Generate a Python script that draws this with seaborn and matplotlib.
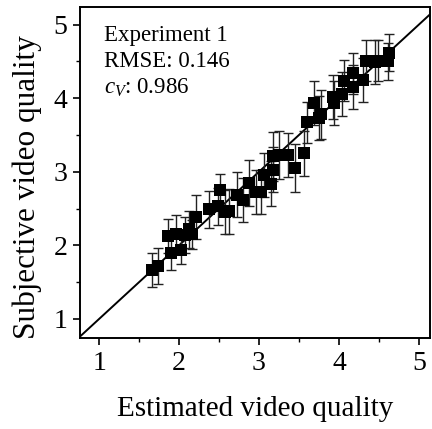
import numpy as np
import pandas as pd
import matplotlib
matplotlib.use("Agg")
import matplotlib.pyplot as plt
import seaborn as sns

estimated = [1.655, 1.73, 1.86, 1.90, 1.96, 2.02, 2.07, 2.125, 2.16, 2.21,
             2.38, 2.49, 2.51, 2.57, 2.63, 2.725, 2.80, 2.88, 2.96, 3.03,
             3.06, 3.155, 3.17, 3.18, 3.25, 3.36, 3.45, 3.56, 3.60, 3.69,
             3.75, 3.78, 3.92, 3.94, 4.04, 4.07, 4.175, 4.175, 4.30, 4.34,
             4.45, 4.49, 4.61, 4.625]
subjective = [1.66, 1.72, 2.13, 1.89, 2.16, 1.93, 2.14, 2.22, 2.15, 2.38,
              2.49, 2.53, 2.75, 2.45, 2.46, 2.69, 2.62, 2.85, 2.73, 2.73,
              2.96, 2.84, 3.03, 3.21, 3.23, 3.23, 3.05, 3.25, 3.67, 3.93,
              3.73, 3.78, 4.02, 3.93, 4.06, 4.24, 4.15, 4.34, 4.25, 4.51,
              4.49, 4.51, 4.50, 4.62]
ci = [0.23, 0.24, 0.23, 0.22, 0.25, 0.18, 0.25, 0.25, 0.20, 0.30,
      0.25, 0.25, 0.22, 0.30, 0.30, 0.30, 0.30, 0.31, 0.30, 0.30,
      0.30, 0.30, 0.30, 0.33, 0.33, 0.30, 0.33, 0.31, 0.28, 0.30,
      0.30, 0.33, 0.30, 0.30, 0.30, 0.28, 0.30, 0.28, 0.30, 0.28,
      0.30, 0.28, 0.25, 0.25]

stats_lines = ["Experiment 1", "RMSE: 0.146", "$c_V$: 0.986"]
xticks = [1, 2, 3, 4, 5]
yticks = [1, 2, 3, 4, 5]

df = pd.DataFrame({"est": estimated, "subj": subjective, "ci": ci})

sns.set_theme(style="ticks")
plt.rcParams["font.family"] = ["Liberation Serif", "DejaVu Serif"]
plt.rcParams["mathtext.fontset"] = "custom"
plt.rcParams["mathtext.rm"] = "Liberation Serif"
plt.rcParams["mathtext.it"] = "Liberation Serif:italic"

fig = plt.figure(figsize=(4.32, 4.29), dpi=100)
ax = fig.add_axes([80 / 432, 1 - 338 / 429, 350 / 432, 331 / 429])

xlim = (0.76, 5.14)
ylim = (0.74, 5.24)
ax.plot([0.5, 5.5], [0.5, 5.5], color="black", lw=1.4, zorder=2)

ax.errorbar(df["est"], df["subj"], yerr=df["ci"], fmt="none", ecolor="#222222",
            elinewidth=1.0, capsize=3.5, capthick=1.0, zorder=3)
sns.scatterplot(data=df, x="est", y="subj", marker="s", s=70, color="black",
                edgecolor="black", linewidth=0, ax=ax, zorder=4)

ax.set_xlim(*xlim)
ax.set_ylim(*ylim)
ax.set_xticks(xticks)
ax.set_yticks(yticks)
ax.set_xticklabels([str(t) for t in xticks])
ax.set_yticklabels([str(t) for t in yticks])
ax.set_xticks([1.5, 2.5, 3.5, 4.5], minor=True)
ax.set_yticks([1.5, 2.5, 3.5, 4.5], minor=True)
ax.tick_params(which="major", direction="out", length=5, width=1.2,
               labelsize=20, colors="black", pad=4)
ax.tick_params(which="minor", direction="out", length=3, width=1.0, colors="black")
for s in ax.spines.values():
    s.set_visible(True)
    s.set_linewidth(1.4)
    s.set_color("black")

ax.set_xlabel("Estimated video quality", fontsize=21, labelpad=15, color="black")
ax.set_ylabel("Subjective video quality", fontsize=22.5, color="black")
ax.yaxis.set_label_coords(-0.108, 0.455)

ax.text(0.07, 0.945, "\n".join(stats_lines), transform=ax.transAxes,
        ha="left", va="top", fontsize=16.5, linespacing=1.3, color="black")

fig.savefig("out.png", dpi=100)
